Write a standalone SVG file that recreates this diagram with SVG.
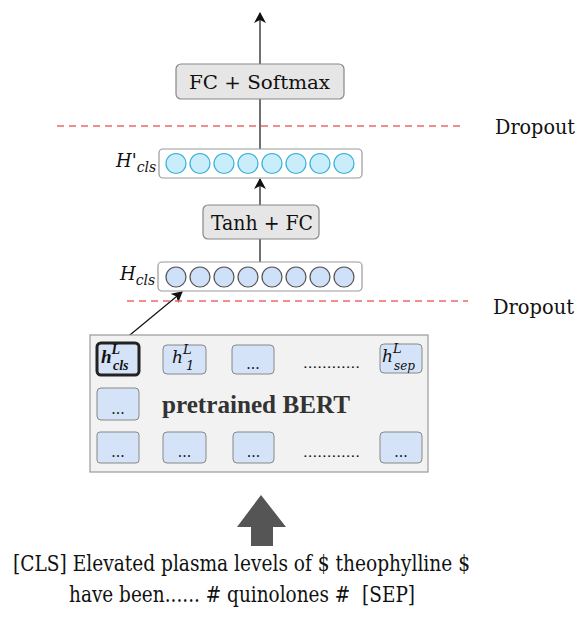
<svg xmlns="http://www.w3.org/2000/svg" width="581" height="619" viewBox="0 0 581 619">
<defs>
<marker id="ah" markerWidth="12" markerHeight="12" refX="10" refY="6" orient="auto" markerUnits="userSpaceOnUse">
<path d="M0,0 L11,6 L0,12 L3,6 Z" fill="#111"/>
</marker>
<style>
text{font-family:'DejaVu Serif',serif;fill:#111}
.b{font-family:'Liberation Serif','DejaVu Serif',serif;font-weight:bold}
.gray{fill:#e6e6e6;stroke:#888;stroke-width:1.2}
.drop{stroke:#e96a6a;stroke-width:1.6;stroke-dasharray:7,5;fill:none}
.cb{fill:#d4e3f7;stroke:#888;stroke-width:1}
.c1{fill:#c9edfb;stroke:#3aaed8;stroke-width:1.2}
.c2{fill:#cfe1f8;stroke:#555;stroke-width:1.2}
.row{fill:#fff;stroke:#999;stroke-width:1.2}
.conn{stroke:#111;stroke-width:1.2;fill:none}
</style>
</defs>
<rect width="581" height="619" fill="#fff"/>

<g id="connectors">
<line class="conn" x1="260" y1="149" x2="260" y2="13" marker-end="url(#ah)"/>
<line class="conn" x1="260" y1="205" x2="260" y2="179" marker-end="url(#ah)"/>
<line class="conn" x1="260" y1="262" x2="260" y2="239"/>
<line class="conn" x1="119" y1="344" x2="182" y2="292" marker-end="url(#ah)"/>
</g>

<g id="dropout-top">
<line class="drop" x1="57" y1="126" x2="460" y2="126"/>
<text x="495" y="134" font-size="20" textLength="80" lengthAdjust="spacingAndGlyphs">Dropout</text>
</g>
<g id="dropout-bottom">
<line class="drop" x1="127" y1="301" x2="468" y2="301"/>
<text x="493" y="314" font-size="20" textLength="81" lengthAdjust="spacingAndGlyphs">Dropout</text>
</g>

<g id="fc-softmax">
<rect class="gray" x="176" y="64" width="168" height="35" rx="5"/>
<text x="189" y="89" font-size="19" textLength="141" lengthAdjust="spacingAndGlyphs">FC + Softmax</text>
</g>

<g id="h-prime-cls">
<text x="116" y="167" font-size="18" font-style="italic">H'<tspan font-size="14" y="172">cls</tspan></text>
<rect class="row" x="159" y="149" width="203" height="29" rx="4"/>
<g class="c1">
<circle cx="176" cy="163.5" r="10"/><circle cx="200" cy="163.5" r="10"/><circle cx="224" cy="163.5" r="10"/><circle cx="248" cy="163.5" r="10"/>
<circle cx="272" cy="163.5" r="10"/><circle cx="296" cy="163.5" r="10"/><circle cx="320" cy="163.5" r="10"/><circle cx="344" cy="163.5" r="10"/>
</g>
</g>

<g id="tanh-fc">
<rect class="gray" x="203" y="205" width="116" height="34" rx="5"/>
<text x="211" y="230" font-size="20" textLength="102" lengthAdjust="spacingAndGlyphs">Tanh + FC</text>
</g>

<g id="h-cls">
<text x="120" y="280" font-size="18" font-style="italic">H<tspan font-size="14" y="285">cls</tspan></text>
<rect class="row" x="158" y="262" width="204" height="29" rx="4"/>
<g class="c2">
<circle cx="176" cy="277" r="10"/><circle cx="200" cy="277" r="10"/><circle cx="224" cy="277" r="10"/><circle cx="248" cy="277" r="10"/>
<circle cx="272" cy="277" r="10"/><circle cx="296" cy="277" r="10"/><circle cx="320" cy="277" r="10"/><circle cx="344" cy="277" r="10"/>
</g>
</g>

<g id="bert">
<rect x="90" y="335" width="338" height="137" fill="#f2f2f2" stroke="#999" stroke-width="1.2"/>
<text class="b" x="162" y="413" font-size="25" style="fill:#333" textLength="188" lengthAdjust="spacingAndGlyphs">pretrained BERT</text>
</g>

<g id="h-cls-L">
<rect x="97" y="343" width="42" height="32" rx="4" fill="#d4e3f7" stroke="#222" stroke-width="3"/>
<text class="b" x="101" y="363" font-size="19" font-style="italic">h<tspan font-size="14" y="354">L</tspan><tspan font-size="14" x="113" y="370">cls</tspan></text>
</g>
<g id="h-1-L">
<rect class="cb" x="163" y="345" width="43" height="29" rx="4"/>
<text x="172" y="363" font-size="17" font-style="italic">h<tspan font-size="13" y="354">L</tspan><tspan font-size="13" x="186" y="370">1</tspan></text>
</g>
<g id="r1c3">
<rect class="cb" x="232" y="345" width="42" height="29" rx="4"/>
<text x="253" y="369" font-size="14" text-anchor="middle">...</text>
</g>
<g id="r1dots"><text x="303" y="368" font-size="13" textLength="57" lengthAdjust="spacingAndGlyphs">............</text></g>
<g id="h-sep-L">
<rect class="cb" x="380" y="344" width="42" height="29" rx="4"/>
<text x="382" y="362" font-size="17" font-style="italic">h<tspan font-size="13" y="353">L</tspan><tspan font-size="12" x="394" y="370">sep</tspan></text>
</g>
<g id="r2c1">
<rect class="cb" x="97" y="388" width="42" height="32" rx="4"/>
<text x="118" y="414" font-size="14" text-anchor="middle">...</text>
</g>
<g id="r3c1">
<rect class="cb" x="97" y="432" width="42" height="31" rx="3"/>
<text x="118" y="457" font-size="14" text-anchor="middle">...</text>
</g>
<g id="r3c2">
<rect class="cb" x="163" y="432" width="43" height="31" rx="4"/>
<text x="184.500" y="457" font-size="14" text-anchor="middle">...</text>
</g>
<g id="r3c3">
<rect class="cb" x="233" y="432" width="41" height="31" rx="4"/>
<text x="253.500" y="457" font-size="14" text-anchor="middle">...</text>
</g>
<g id="r3dots"><text x="303" y="457" font-size="13" textLength="57" lengthAdjust="spacingAndGlyphs">............</text></g>
<g id="r3c4">
<rect class="cb" x="380" y="432" width="42" height="31" rx="4"/>
<text x="401" y="457" font-size="14" text-anchor="middle">...</text>
</g>

<g id="input-arrow">
<path d="M261,495 L286,527 L273,527 L273,546 L251,546 L251,527 L237,527 Z" fill="#555"/>
</g>

<g id="input-text">
<text x="13" y="571" font-size="22" textLength="457" lengthAdjust="spacingAndGlyphs">[CLS] Elevated plasma levels of $ theophylline $</text>
<text x="69" y="602" font-size="22" xml:space="preserve" textLength="346" lengthAdjust="spacingAndGlyphs">have been...... # quinolones #  [SEP]</text>
</g>
</svg>
